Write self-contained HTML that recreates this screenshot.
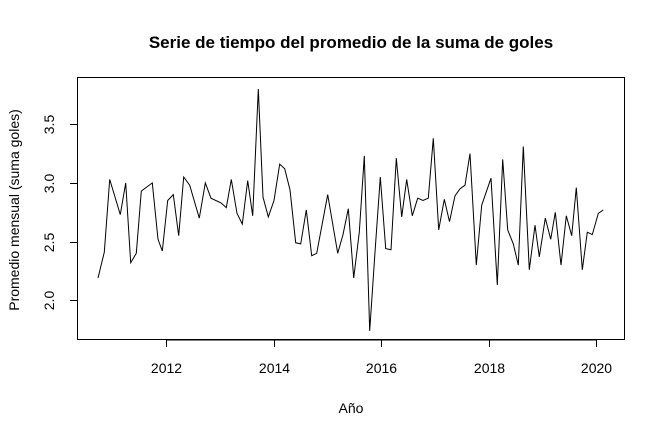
<!DOCTYPE html>
<html><head><meta charset="utf-8"><style>
body{margin:0;background:#fff}
svg text{font-family:"Liberation Sans",Arial,sans-serif;fill:#000}
</style></head><body>
<svg id="chart" width="664" height="438" viewBox="0 0 664 438" xmlns="http://www.w3.org/2000/svg">
<rect width="664" height="438" fill="#fff"/>
<text x="351" y="48" text-anchor="middle" font-size="17" font-weight="bold">Serie de tiempo del promedio de la suma de goles</text>
<rect x="77.5" y="77.5" width="547" height="262" fill="none" stroke="#000" stroke-width="1"/>
<text x="351" y="413" text-anchor="middle" font-size="14">Año</text>
<text transform="translate(19,210) rotate(-90)" text-anchor="middle" font-size="14">Promedio mensual (suma goles)</text>
<g id="axes"></g>
<polyline id="series" fill="none" stroke="#000" stroke-width="1"/>
</svg>
<script>
const times=[2010.735,2010.852,2010.953,2011.150,2011.250,2011.343,2011.447,2011.540,2011.745,2011.851,2011.931,2012.032,2012.136,2012.236,2012.329,2012.441,2012.620,2012.731,2012.837,2013.023,2013.122,2013.215,2013.321,2013.420,2013.520,2013.613,2013.717,2013.805,2013.903,2014.009,2014.115,2014.208,2014.307,2014.413,2014.506,2014.610,2014.711,2014.804,2015.008,2015.194,2015.293,2015.392,2015.492,2015.596,2015.689,2015.790,2015.888,2015.987,2016.087,2016.186,2016.285,2016.385,2016.478,2016.582,2016.683,2016.781,2016.880,2016.973,2017.074,2017.178,2017.274,2017.377,2017.470,2017.563,2017.656,2017.773,2017.873,2018.047,2018.164,2018.264,2018.357,2018.461,2018.554,2018.647,2018.759,2018.865,2018.945,2019.057,2019.157,2019.243,2019.349,2019.447,2019.548,2019.633,2019.745,2019.838,2019.931,2020.043,2020.136];
const values=[2.19,2.41,3.03,2.73,3.00,2.32,2.40,2.93,3.00,2.52,2.42,2.85,2.90,2.55,3.05,2.98,2.70,3.00,2.87,2.83,2.79,3.03,2.74,2.65,3.02,2.72,3.80,2.88,2.71,2.85,3.16,3.12,2.94,2.49,2.48,2.77,2.38,2.40,2.90,2.40,2.56,2.78,2.19,2.58,3.23,1.74,2.41,3.05,2.44,2.43,3.21,2.71,3.03,2.72,2.87,2.85,2.87,3.38,2.60,2.86,2.67,2.89,2.95,2.98,3.25,2.30,2.81,3.04,2.13,3.20,2.60,2.48,2.30,3.31,2.26,2.64,2.37,2.70,2.52,2.75,2.30,2.72,2.55,2.96,2.26,2.58,2.56,2.74,2.77];
const xTicks=[2012,2014,2016,2018,2020];
const yTicks=[2.0,2.5,3.0,3.5];
const xScale=t=>166+(t-2012)*53.75;
const yScale=v=>300.3-(v-2.0)*117.4;
const NS="http://www.w3.org/2000/svg";
const axes=document.getElementById('axes');
function mk(tag,attrs){const e=document.createElementNS(NS,tag);for(const k in attrs)e.setAttribute(k,attrs[k]);return e;}
const xl=mk('line',{x1:xScale(xTicks[0]),x2:xScale(xTicks[xTicks.length-1]),y1:340,y2:340,stroke:'#000'});


axes.appendChild(xl);
xTicks.forEach(t=>{
 const x=Math.round(xScale(t))+0.5;
 const tk=mk('line',{x1:x,x2:x,y1:340,y2:347,stroke:'#000'});
 
 
 axes.appendChild(tk);
 const tx=mk('text',{x:x,y:373,'text-anchor':'middle','font-size':'14'});
 tx.textContent=t;
 
 
 axes.appendChild(tx);
});
yTicks.forEach(v=>{
 const y=Math.round(yScale(v))+0.5;
 const tk=mk('line',{x1:70,x2:77,y1:y,y2:y,stroke:'#000'});
 
 
 axes.appendChild(tk);
 const tx=mk('text',{transform:`translate(54,${y}) rotate(-90)`,'text-anchor':'middle','font-size':'14'});
 tx.textContent=v.toFixed(1);
 
 
 axes.appendChild(tx);
});
document.getElementById('series').setAttribute('points',times.map((t,i)=>xScale(t).toFixed(1)+','+yScale(values[i]).toFixed(1)).join(' '));
</script>
</body></html>
